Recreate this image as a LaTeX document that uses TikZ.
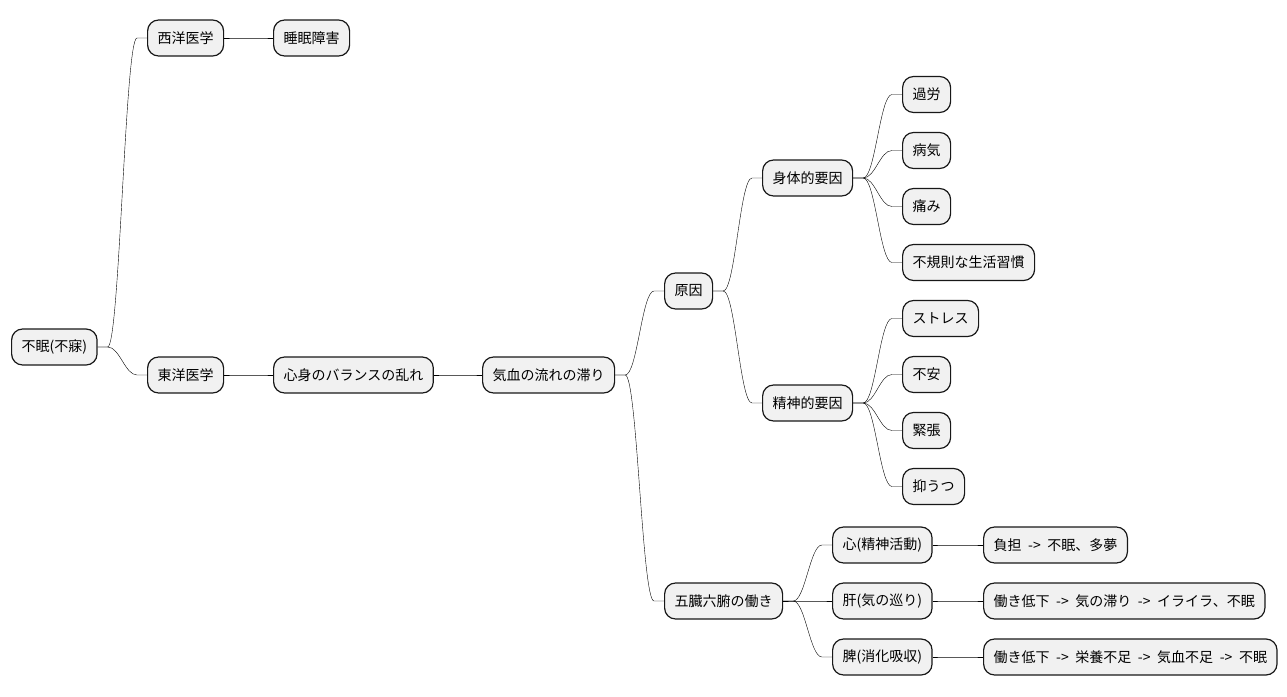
\documentclass[tikz,border=0pt]{standalone}
\usepackage{fontspec}
\setmainfont[WordSpace=2.1]{Noto Sans CJK JP}
\definecolor{boxfill}{HTML}{F1F1F1}
\definecolor{boxline}{HTML}{181818}
\begin{document}
\begin{tikzpicture}[
  x=1pt, y=-1pt,
  box/.style={
    draw=boxline,
    fill=boxfill,
    line width=1.2pt,
    rounded corners=11pt,
    anchor=west,
    minimum height=36pt,
    inner xsep=10pt,
    inner ysep=0pt,
    font=\fontsize{14pt}{17pt}\selectfont
  },
  link/.style={
    line width=1pt,
    draw=boxline,
    to path={-- ++(10pt,0) .. controls +(12pt,0) and ([xshift=-22pt]\tikztotarget) .. ([xshift=-10pt]\tikztotarget) -- (\tikztotarget)}
  }
]
\useasboundingbox (0,0) rectangle (1287,696);

\node[box] (root) at (11,347) {不眠(不寐)};
\node[box] (west) at (147,38) {西洋医学};
\node[box] (insomnia) at (273,38) {睡眠障害};
\node[box] (east) at (147,375) {東洋医学};
\node[box] (balance) at (273,375) {心身のバランスの乱れ};
\node[box] (flow) at (482,375) {気血の流れの滞り};

\node[box] (cause) at (664,291) {原因};
\node[box] (body) at (762,178) {身体的要因};
\node[box] (fatigue) at (902,94.5) {過労};
\node[box] (illness) at (902,150.5) {病気};
\node[box] (pain) at (902,206.5) {痛み};
\node[box] (habit) at (902,262.5) {不規則な生活習慣};
\node[box] (mind) at (762,403) {精神的要因};
\node[box] (stress) at (902,318.5) {ストレス};
\node[box] (anxiety) at (902,374.5) {不安};
\node[box] (tension) at (902,430.5) {緊張};
\node[box] (depress) at (902,486.5) {抑うつ};

\node[box] (organs) at (664,601) {五臓六腑の働き};
\node[box] (heart) at (832,545) {心(精神活動)};
\node[box] (liver) at (832,601) {肝(気の巡り)};
\node[box] (spleen) at (832,657) {脾(消化吸収)};
\node[box, minimum width=143pt] (heartfx) at (983,545) {負担 -> 不眠、多夢};
\node[box, minimum width=281pt] (liverfx) at (983,601) {働き低下 -> 気の滞り -> イライラ、不眠};
\node[box, minimum width=293pt] (spleenfx) at (983,657) {働き低下 -> 栄養不足 -> 気血不足 -> 不眠};

\draw (root.east) to[link] (west.west);
\draw (root.east) to[link] (east.west);
\draw (west.east) to[link] (insomnia.west);
\draw (east.east) to[link] (balance.west);
\draw (balance.east) to[link] (flow.west);
\draw (flow.east) to[link] (cause.west);
\draw (flow.east) to[link] (organs.west);
\draw (cause.east) to[link] (body.west);
\draw (cause.east) to[link] (mind.west);
\draw (body.east) to[link] (fatigue.west);
\draw (body.east) to[link] (illness.west);
\draw (body.east) to[link] (pain.west);
\draw (body.east) to[link] (habit.west);
\draw (mind.east) to[link] (stress.west);
\draw (mind.east) to[link] (anxiety.west);
\draw (mind.east) to[link] (tension.west);
\draw (mind.east) to[link] (depress.west);
\draw (organs.east) to[link] (heart.west);
\draw (organs.east) to[link] (liver.west);
\draw (organs.east) to[link] (spleen.west);
\draw (heart.east) to[link] (heartfx.west);
\draw (liver.east) to[link] (liverfx.west);
\draw (spleen.east) to[link] (spleenfx.west);
\end{tikzpicture}
\end{document}
